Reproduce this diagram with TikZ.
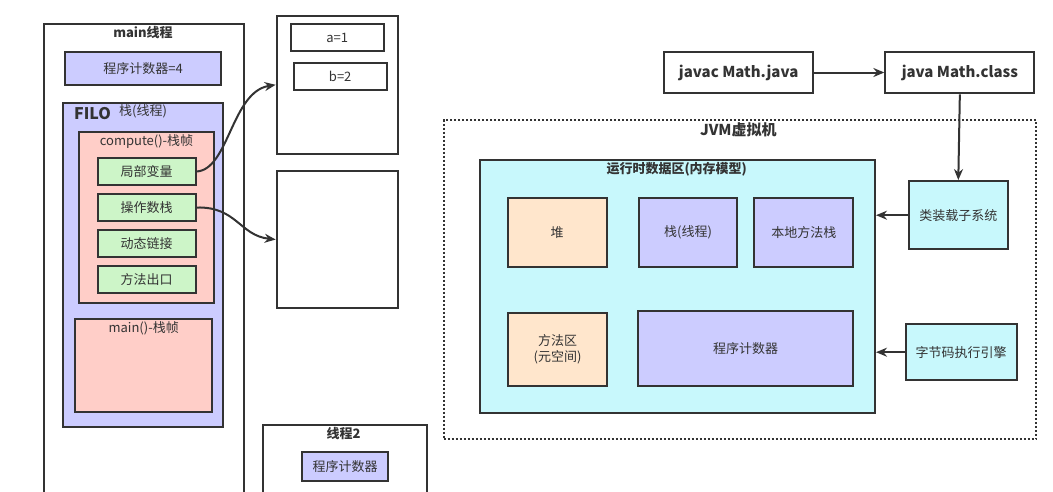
\documentclass[tikz,border=0pt]{standalone}
\usepackage{fontspec}
\setmainfont{Noto Sans CJK SC}
\usepackage{tikz}
\usetikzlibrary{arrows.meta,positioning}
\definecolor{memlav}{RGB}{204,204,255}
\definecolor{mempink}{RGB}{255,206,200}
\definecolor{memgreen}{RGB}{205,245,200}
\definecolor{mempeach}{RGB}{255,230,204}
\definecolor{memcyan}{RGB}{200,248,252}
\definecolor{memline}{RGB}{51,51,51}

\begin{document}
\begin{tikzpicture}[x=1pt, y=-1pt,
    block/.style={rectangle, draw=memline, line width=2pt, inner sep=0pt, align=center,
        font=\fontsize{13}{16}\selectfont, text=memline},
    gblock/.style={block, fill=memgreen, minimum width=98pt, minimum height=27pt},
    lbl/.style={inner sep=0pt, font=\fontsize{13}{16}\selectfont, text=memline},
    title/.style={lbl, font=\fontsize{13}{16}\selectfont\bfseries},
    arr/.style={-{Stealth[length=11pt, width=9pt]}, line width=2pt, draw=memline}
]
\useasboundingbox (0,0) rectangle (1053,491);
\clip (0,0) rectangle (1053,491);

% main thread
\node[block, minimum width=200pt, minimum height=480pt, anchor=north west] (mainthr) at (43,23) {};
\node[title] (mainttl) at (143,33) {main线程};
\node[block, fill=memlav, minimum width=156pt, minimum height=33pt] (pcmain) at (143,68.5) {程序计数器=4};
\node[block, fill=memlav, minimum width=160pt, minimum height=324pt] (stack) at (143,265) {};
\node[title, font=\fontsize{16}{18}\selectfont\bfseries] (filo) at (92.5,114) {FILO};
\node[lbl] (stackttl) at (143,111) {栈(线程)};

% compute() frame
\node[block, fill=mempink, minimum width=135pt, minimum height=171pt] (compfr) at (146.5,217.5) {};
\node[lbl] (compttl) at (146.5,142) {compute()-栈帧};
\node[gblock] (locvar) at (146.7,171.5) {局部变量};
\node[gblock, below=7pt of locvar] (opstack) {操作数栈};
\node[gblock, below=7pt of opstack] (dynlink) {动态链接};
\node[gblock, below=7pt of dynlink] (retaddr) {方法出口};

% main() frame
\node[block, fill=mempink, minimum width=136.7pt, minimum height=93pt] (mainfr) at (143.3,365.7) {};
\node[lbl] (mainfrttl) at (143.7,328) {main()-栈帧};

% heap objects
\node[block, minimum width=121.7pt, minimum height=137.7pt] (obj1) at (337.5,84.8) {};
\node[block, minimum width=92.7pt, minimum height=27pt] (vara) at (337.3,37.8) {a=1};
\node[block, minimum width=93pt, minimum height=27pt] (varb) at (340.2,76.5) {b=2};
\node[block, minimum width=121.7pt, minimum height=137.7pt] (obj2) at (337.5,239.5) {};
\draw[arr] (locvar.east) .. controls +(32,-2) and +(-44,7) .. (obj1.west);
\draw[arr] (opstack.east) .. controls +(40,-1) and +(-36,-4) .. (obj2.west);

% thread 2
\node[block, minimum width=164.3pt, minimum height=100pt, anchor=north west] (thr2) at (261.7,424.3) {};
\node[title] (thr2ttl) at (343.7,433.3) {线程2};
\node[block, fill=memlav, minimum width=86.7pt, minimum height=28.7pt] (pcthr2) at (345,466.7) {程序计数器};

% compile and run
\node[block, minimum width=149.3pt, minimum height=41.7pt, font=\fontsize{15}{18}\selectfont\bfseries]
    (javac) at (738.7,72.5) {javac Math.java};
\node[block, minimum width=149pt, minimum height=41.7pt, font=\fontsize{15}{18}\selectfont\bfseries,
    right=70pt of javac] (javarun) {java Math.class};
\draw[arr] (javac) -- (javarun);

% JVM
\node[draw=memline, line width=2pt, dash pattern=on 2pt off 2pt, minimum width=592.5pt,
    minimum height=319.3pt, anchor=north west] (jvm) at (442.7,119) {};
\node[title, font=\fontsize{15}{18}\selectfont\bfseries] (jvmttl) at (738.3,129.3) {JVM虚拟机};
\node[block, fill=memcyan, minimum width=395pt, minimum height=253.3pt] (rda) at (677.5,286.7) {};
\node[title] (rdattl) at (676.7,169.3) {运行时数据区(内存模型)};
\node[block, fill=mempeach, minimum width=99pt, minimum height=69pt] (heap) at (557.2,232.2) {堆};
\node[block, fill=memlav, minimum width=98.7pt, minimum height=69pt] (jstack) at (688,232.2) {栈(线程)};
\node[block, fill=memlav, minimum width=99pt, minimum height=69pt] (natstack) at (803.8,232.2) {本地方法栈};
\node[block, fill=mempeach, minimum width=98.3pt, minimum height=73.3pt] (metasp) at (557.5,349.3) {方法区\\(元空间)};
\node[block, fill=memlav, minimum width=215.7pt, minimum height=75pt] (pcrda) at (745.5,348.5) {程序计数器};

\node[block, fill=memcyan, minimum width=98.7pt, minimum height=68.3pt] (loader) at (958.3,215.2) {类装载子系统};
\node[block, fill=memcyan, minimum width=111pt, minimum height=55.7pt] (engine) at (961.2,352.2) {字节码执行引擎};
\draw[arr] (javarun.south) -- (loader.north);
\draw[arr] (loader.west) -- (loader.west -| rda.east);
\draw[arr] (engine.west) -- (engine.west -| rda.east);
\end{tikzpicture}
\end{document}
